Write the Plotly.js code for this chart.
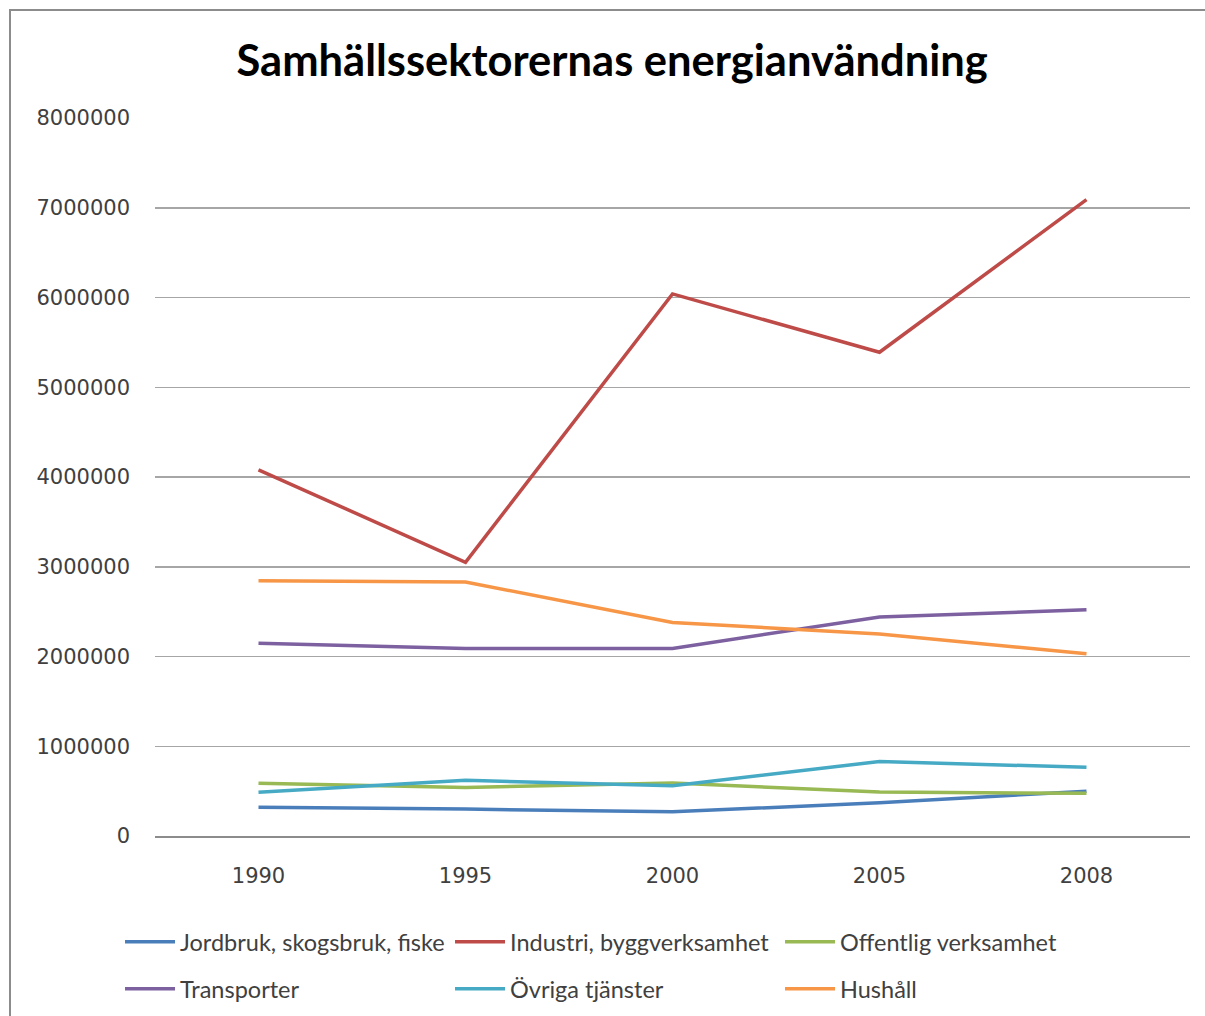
<!DOCTYPE html>
<html>
<head>
<meta charset="utf-8">
<script src="https://cdn.plot.ly/plotly-3.0.1.min.js"></script>
<style>
html,body{margin:0;padding:0;background:#fff;}
#frame{position:absolute;left:9px;top:9px;width:1210px;height:1020px;border:2px solid #8c8c8c;box-sizing:border-box;}
#chart{position:absolute;left:0;top:0;width:1205px;height:1016px;}
</style>
</head>
<body>
<div id="frame"></div>
<div id="chart"></div>
<script>
const years = ['1990', '1995', '2000', '2005', '2008'];
const jordbruk = [320000, 300000, 270000, 370000, 500000];
const industri = [4080000, 3050000, 6040000, 5390000, 7090000];
const offentlig = [587000, 540000, 590000, 490000, 475000];
const transporter = [2147000, 2090000, 2090000, 2440000, 2520000];
const ovriga = [487000, 620000, 560000, 830000, 765000];
const hushall = [2845000, 2830000, 2380000, 2250000, 2030000];

const names = ['Jordbruk, skogsbruk, fiske', 'Industri, byggverksamhet', 'Offentlig verksamhet',
               'Transporter', 'Övriga tjänster', 'Hushåll'];
const colors = ['#4A7EBB', '#BE4B48', '#98B954', '#7D60A0', '#46AAC5', '#F79646'];
const series = [jordbruk, industri, offentlig, transporter, ovriga, hushall];

const traces = series.map((s, i) => ({
  x: years, y: s, name: names[i], type: 'scatter', mode: 'lines',
  legend: i < 3 ? 'legend' : 'legend2',
  line: {color: colors[i], width: 3.5}
}));

const legendFont = {family: 'Lato, sans-serif', size: 23.5, color: '#404040'};
const legendCommon = {orientation: 'h', xanchor: 'left', yanchor: 'middle',
  entrywidth: 265, entrywidthmode: 'pixels', itemwidth: 50,
  font: legendFont, bgcolor: 'rgba(0,0,0,0)'};

const layout = {
  width: 1205, height: 1016,
  margin: {l: 155, r: 15, t: 118, b: 180, autoexpand: false},
  paper_bgcolor: 'rgba(0,0,0,0)', plot_bgcolor: 'rgba(0,0,0,0)',
  font: {family: '"DejaVu Sans", sans-serif', size: 21, color: '#404040'},
  title: {text: '<b>Samhällssektorernas energianvändning</b>', x: 0.508, xanchor: 'center',
          y: 0.94, yanchor: 'middle', yref: 'container',
          font: {family: 'Lato, sans-serif', size: 43.5, color: '#000'}},
  xaxis: {type: 'category', range: [-0.5, 4.5], showgrid: false, showline: true,
          linecolor: '#8c8c8c', linewidth: 1.5, automargin: false,
          ticks: '', tickfont: {size: 21, color: '#404040'}, ticklabelstandoff: 20},
  yaxis: {range: [0, 8000000], dtick: 1000000, tickformat: 'd', showgrid: true,
          gridcolor: '#a6a6a6', gridwidth: 1.5, zeroline: false, showline: false,
          automargin: false,
          ticks: '', tickfont: {size: 21, color: '#404040'}, ticklabelstandoff: 24},
  showlegend: true,
  legend: Object.assign({x: -0.0338, y: -0.1476}, legendCommon),
  legend2: Object.assign({x: -0.0338, y: -0.213}, legendCommon)
};

Plotly.newPlot('chart', traces, layout, {displayModeBar: false, staticPlot: true});
</script>
</body>
</html>
